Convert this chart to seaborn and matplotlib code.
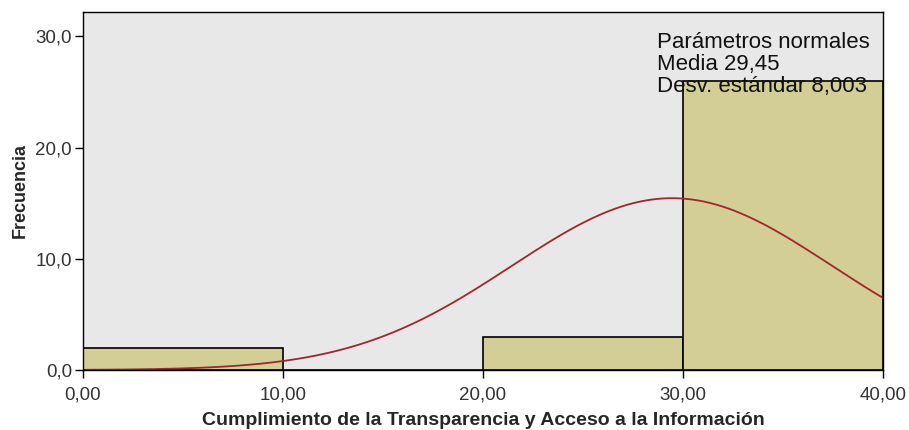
import numpy as np
import pandas as pd
import seaborn as sns
import matplotlib.pyplot as plt

# datos del histograma
bordes = [0, 10, 20, 30, 40]
centros = [5, 15, 25, 35]
frecuencia = [2, 0, 3, 26]
media = 29.45
desv = 8.003
n = 31

sns.set_style("white")
plt.rcParams['font.family'] = ['Liberation Sans', 'DejaVu Sans']

df = pd.DataFrame({"x": centros, "f": frecuencia})

fig = plt.figure(figsize=(9.09, 4.30), dpi=100)
ax = fig.add_axes([83 / 909, 60 / 430, 800 / 909, 358 / 430])
ax.set_facecolor('#E8E8E8')

sns.histplot(data=df, x="x", weights="f", bins=bordes, ax=ax,
             color='#D3CE96', alpha=1, edgecolor='black', linewidth=1.2)

# curva normal
xs = np.linspace(0, 40, 400)
ys = n * 10 * np.exp(-0.5 * ((xs - media) / desv) ** 2) / (desv * np.sqrt(2 * np.pi))
ax.plot(xs, ys, color='#A0262C', linewidth=1.3)

ax.set_xlim(0, 40)
ax.set_ylim(0, 32.2)
ax.set_xticks([0, 10, 20, 30, 40])
ax.set_xticklabels(["0,00", "10,00", "20,00", "30,00", "40,00"])
ax.set_yticks([0, 10, 20, 30])
ax.set_yticklabels(["0,0", "10,0", "20,0", "30,0"])
ax.tick_params(axis='both', direction='out', length=6, width=1, color='black',
               labelsize=13.5, labelcolor='#333333', bottom=True, left=True, pad=2)
ax.tick_params(axis='x', pad=6)

for s in ax.spines.values():
    s.set_color('black')
    s.set_linewidth(1)

ax.set_xlabel("Cumplimiento de la Transparencia y Acceso a la Información",
              fontsize=14, fontweight='bold', labelpad=6)
ax.set_ylabel("Frecuencia", fontsize=13, fontweight='bold', labelpad=5)

ax.text(0.718, 0.945, "Parámetros normales\nMedia 29,45\nDesv. estándar 8,003",
        transform=ax.transAxes, ha='left', va='top', fontsize=16,
        linespacing=1.08, color='#111111', zorder=10)

fig.savefig("out.png", dpi=100)
